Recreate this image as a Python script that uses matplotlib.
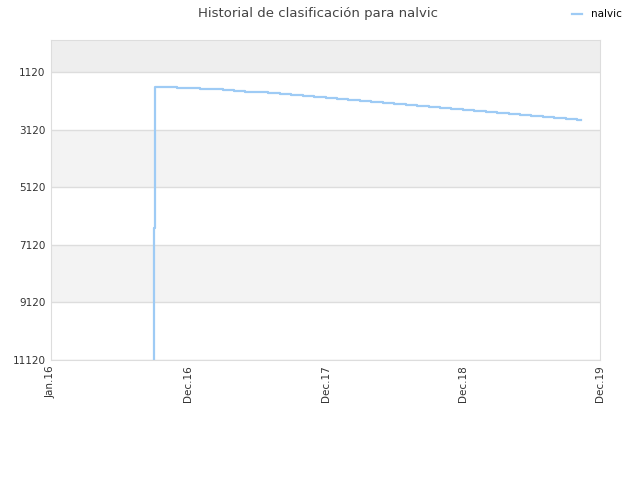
import matplotlib
matplotlib.use('Agg')
from matplotlib import pyplot as plt

# meses desde Jan.16 (0 = enero 2016)
months = [8.97, 8.99, 9.05, 10, 11, 12, 13, 14, 15, 16, 17, 18, 19, 20, 21, 22, 23, 24, 25, 26,
          27, 28, 29, 30, 31, 32, 33, 34, 35, 36, 37, 38, 39, 40, 41, 42, 43, 44, 45, 46, 46.3]
ranks = [11120, 6540, 1620, 1620, 1655, 1655, 1690, 1690, 1724, 1759, 1794, 1815, 1856, 1891, 1926,
         1953, 1988, 2023, 2057, 2092, 2127, 2162, 2196, 2231, 2266, 2300, 2335, 2370, 2394, 2429,
         2464, 2498, 2533, 2568, 2603, 2637, 2672, 2707, 2741, 2776, 2776]

y_ticks = [1120, 3120, 5120, 7120, 9120, 11120]
x_ticks = [0, 12, 24, 36, 48]
x_labels = ['Jan.16', 'Dec.16', 'Dec.17', 'Dec.18', 'Dec.19']

fig = plt.figure(figsize=(6.4, 4.8), dpi=100)
ax = fig.add_axes([0.0797, 0.25, 0.858, 0.6667])

# bandas de fondo
ax.axhspan(0, 1120, color='#eeeeee', zorder=0, lw=0)
ax.axhspan(3120, 5120, color='#f3f3f3', zorder=0, lw=0)
ax.axhspan(7120, 9120, color='#f3f3f3', zorder=0, lw=0)
for t in y_ticks:
    ax.axhline(t, color='#dddddd', lw=1, zorder=1)

ax.step(months, ranks, where='post', color='#9ecbf5', lw=1.6, label='nalvic', zorder=2)

ax.set_ylim(11120, 0)
ax.set_xlim(0, 48)
ax.set_yticks(y_ticks)
ax.set_yticklabels([str(t) for t in y_ticks])
ax.set_xticks(x_ticks)
ax.set_xticklabels(x_labels, rotation=90)
ax.tick_params(labelsize=7.5, colors='#333333', length=0, pad=4)
for s in ax.spines.values():
    s.set_color('#dddddd')

fig.suptitle('Historial de clasificación para nalvic', x=0.497, y=0.985, fontsize=9.5, color='#444444')
fig.legend(loc='upper right', bbox_to_anchor=(0.986, 1.0), frameon=False, fontsize=7.5,
           handlelength=1.0, handletextpad=0.8)

plt.savefig('out.png', dpi=100)
